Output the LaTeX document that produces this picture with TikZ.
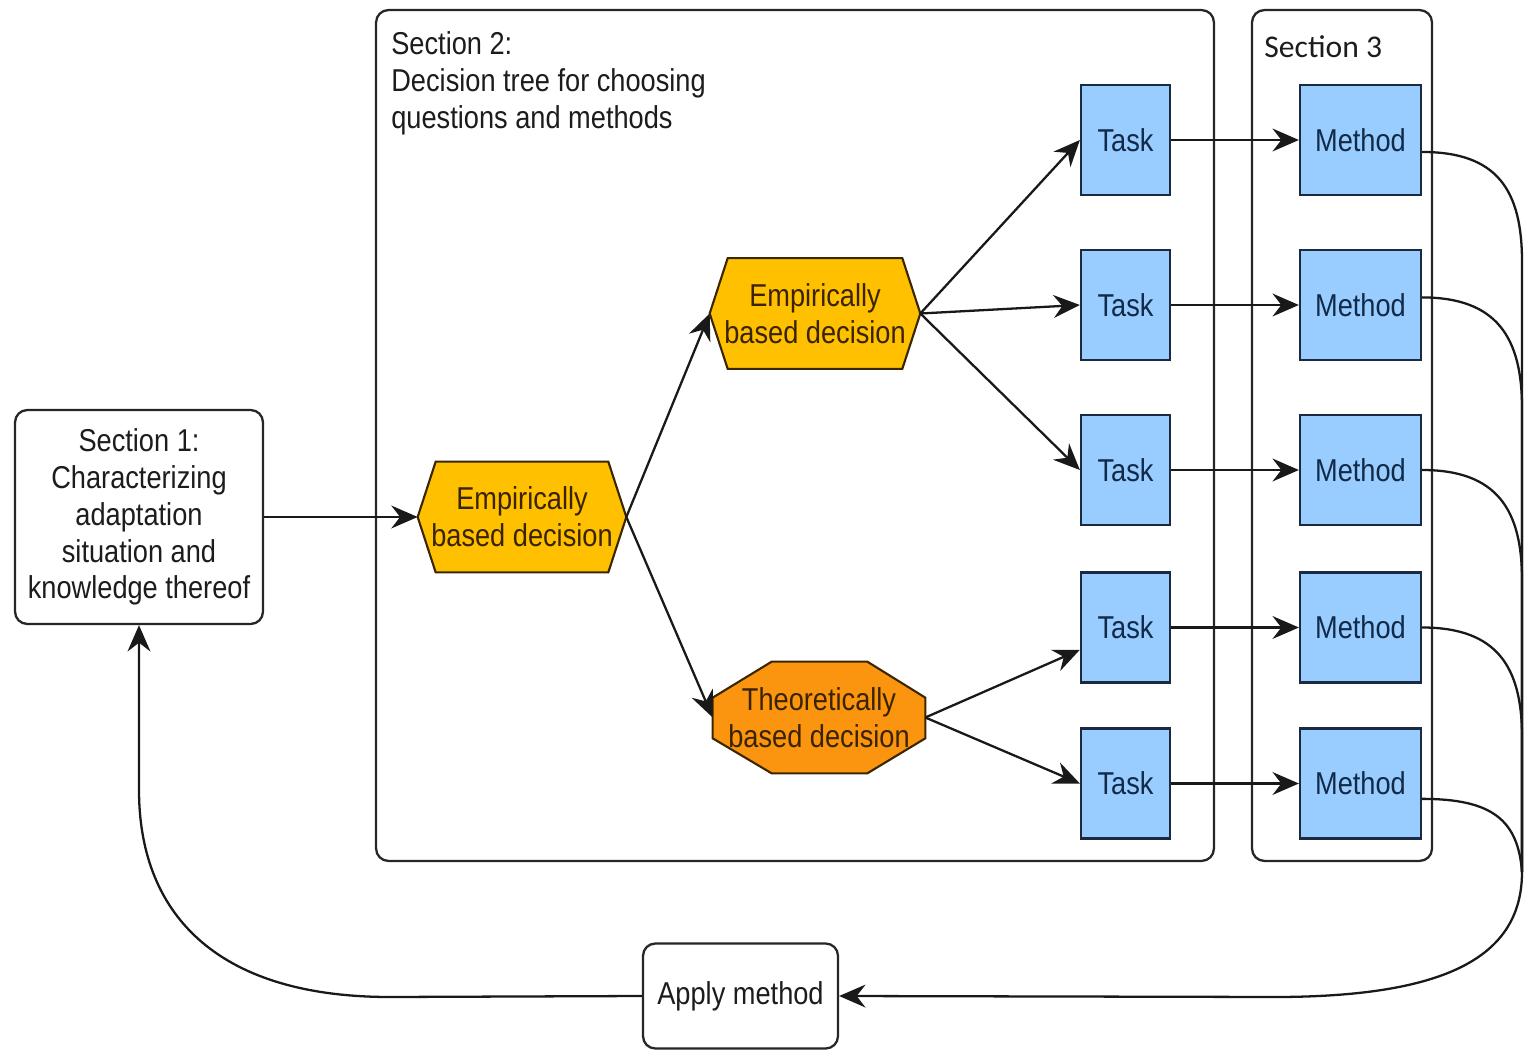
\documentclass[tikz,border=0pt]{standalone}
\usepackage{fontspec}
\setmainfont{Liberation Sans}[FakeStretch=0.86]
\newfontfamily\headfont{Carlito}
\usetikzlibrary{arrows.meta,calc}
\pgfdeclarelayer{background}
\pgfsetlayers{background,main}

\definecolor{taskblue}{HTML}{99CCFF}
\definecolor{taskline}{HTML}{1A2A40}
\definecolor{tasktext}{HTML}{112A48}
\definecolor{empfill}{HTML}{FFC000}
\definecolor{theofill}{HTML}{FB940F}
\definecolor{decline}{HTML}{3A2600}
\definecolor{dectext}{HTML}{3A2400}
\definecolor{textgrey}{HTML}{1C1C1C}

\begin{document}
\begin{tikzpicture}[x=0.02cm,y=-0.02cm,
  every node/.style={font=\fontsize{18}{21}\selectfont, text=textgrey},
  frame/.style={draw=black!85, line width=1.3pt, rounded corners=7pt, inner sep=0pt},
  plainbox/.style={draw=black!85, line width=1.3pt, rounded corners=7pt, fill=white,
    align=center, inner sep=0pt},
  taskbox/.style={draw=taskline, line width=1.3pt, fill=taskblue, text=tasktext,
    minimum height=2.2cm, inner sep=0pt},
  decision/.style={align=center, inner sep=0pt, text=dectext, minimum height=2.2cm},
  conn/.style={line width=1.3pt, draw=black!90,
    -{Stealth[length=15pt,width=13pt,inset=5pt]}},
  link/.style={line width=1.3pt, draw=black!90}
]
\useasboundingbox (0,0) rectangle (1524,1050);

% section frames
\node[frame, minimum width=16.76cm, minimum height=17.02cm] (sec2) at (795,435.5) {};
\node[frame, minimum width=3.6cm, minimum height=17.02cm] (sec3) at (1342,435.5) {};
\node[anchor=north west, align=left, inner sep=0pt] (sec2label) at (391,31)
  {Section 2:\\Decision tree for choosing\\questions and methods};
\node[anchor=west, inner sep=0pt, font=\headfont\fontsize{18}{21}\selectfont] (sec3label)
  at (1264,47) {Section 3};

% section 1 and the apply step
\node[plainbox, minimum width=4.96cm, minimum height=4.28cm] (s1) at (139,517)
  {Section 1:\\Characterizing\\adaptation\\situation and\\knowledge thereof};
\node[plainbox, minimum width=3.9cm, minimum height=2.1cm] (ap) at (740.5,996)
  {Apply method};

% decisions
\node[decision, minimum width=4.16cm] (h1) at (522,517) {Empirically\\based decision};
\node[decision, minimum width=4.2cm] (h2) at (815,313.5) {Empirically\\based decision};
\node[decision, minimum width=4.24cm, minimum height=2.22cm] (oc) at (819,717.5)
  {Theoretically\\based decision};

\begin{pgfonlayer}{background}
  \foreach \h in {h1,h2}{
    \draw[line width=1.2pt, draw=decline, fill=empfill, line join=miter]
      (\h.west) -- ($(\h.north west)+(18,0)$) -- ($(\h.north east)+(-18,0)$)
      -- (\h.east) -- ($(\h.south east)+(-18,0)$) -- ($(\h.south west)+(18,0)$) -- cycle;
  }
  \draw[line width=1.2pt, draw=decline, fill=theofill, line join=miter]
    ($(oc.north west)+(59,0)$) -- ($(oc.north east)+(-58,0)$)
    -- ($(oc.north east)+(0,36)$) -- ($(oc.south east)+(0,-35)$)
    -- ($(oc.south east)+(-58,0)$) -- ($(oc.south west)+(59,0)$)
    -- ($(oc.south west)+(0,-35)$) -- ($(oc.north west)+(0,36)$) -- cycle;
\end{pgfonlayer}

% tasks and methods
\foreach \i/\y in {1/140,2/305,3/470,4/627.5,5/783.5}{
  \node[taskbox, minimum width=1.78cm] (t\i) at (1125.5,\y) {Task};
  \node[taskbox, minimum width=2.42cm] (m\i) at (1360.5,\y) {Method};
  \draw[conn] (t\i.east) -- (m\i.west);
}

% decision tree connectors
\draw[conn] (s1.east) -- (h1.west);
\draw[conn] (h1.east) -- (h2.west);
\draw[conn] (h1.east) -- (oc.west);
\draw[conn] (h2.east) -- (t1.west);
\draw[conn] (h2.east) -- (t2.west);
\draw[conn] (h2.east) -- (t3.west);
\draw[conn] (oc.east) -- (t4.206);
\draw[conn] (oc.east) -- (t5.west);

% methods feed back into the apply step
\coordinate (merge) at (1522,872);
\draw[link] (m1.-11) .. controls +(75,0) and (1522,190) .. (1522,262) -- (merge);
\draw[link] (m2.7) .. controls +(75,0) and (1522,338) .. (1522,408) -- (merge);
\draw[link] (m3.east) .. controls +(75,0) and (1522,510) .. (1522,580) -- (merge);
\draw[link] (m4.east) .. controls +(75,0) and (1522,667) .. (1522,737) -- (merge);
\draw[link] (m5.-14) .. controls +(70,0) and (1518,820) .. (merge);
\draw[conn] (merge) .. controls (1522,960) and (1440,996) .. (1280,997) -- (ap.east);

% loop back to section 1
\draw[conn] (ap.west) -- (390,997) .. controls (212,997) and (139,910) .. (139,790)
  -- (s1.south);
\end{tikzpicture}
\end{document}
